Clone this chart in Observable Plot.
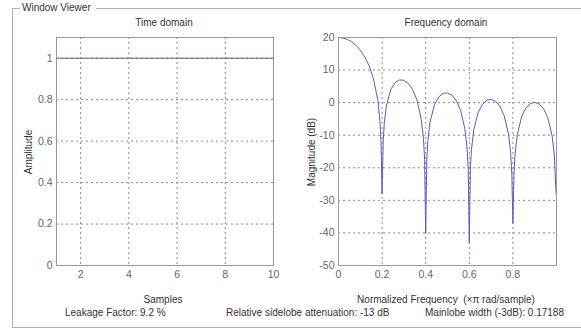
<!DOCTYPE html>
<html>
<head>
<meta charset="utf-8">
<script src="https://cdn.jsdelivr.net/npm/d3@7"></script>
<script src="https://cdn.jsdelivr.net/npm/@observablehq/plot@0.6"></script>
<style>
  html, body { margin: 0; padding: 0; background: #fff; }
  #root { position: relative; width: 581px; height: 329px; overflow: hidden; font-family: "Liberation Sans", Arial, sans-serif; }
  .t { position: absolute; font-size: 10px; color: #333; white-space: nowrap; line-height: 1; }
  .c { transform: translate(-50%, -50%); }
  .r { transform: translate(-50%, -50%) rotate(-90deg); }
  .box { position: absolute; border-color: #b0b0b0; border-style: solid; border-width: 0; }
  .plot { position: absolute; top: 0; }
</style>
</head>
<body>
<div id="root">
  <div class="box" style="left:12px;top:8px;width:8px;height:0;border-top-width:1px;"></div>
  <div class="box" style="left:96px;top:8px;width:490px;height:0;border-top-width:1px;"></div>
  <div class="box" style="left:12px;top:8px;width:0;height:319px;border-left-width:1px;"></div>
  <div class="box" style="left:12px;top:327px;width:575px;height:0;border-top-width:1px;"></div>
  <div class="t" style="left:22px;top:3px;">Window Viewer</div>
  <div id="left" class="plot" style="left:0;"></div>
  <div id="right" class="plot" style="left:290px;"></div>
  <div class="t c" style="left:164px;top:23px;">Time domain</div>
  <div class="t c" style="left:446px;top:23px;">Frequency domain</div>
  <div class="t c" style="left:163px;top:300px;">Samples</div>
  <div class="t c" style="left:446px;top:300px;">Normalized Frequency&nbsp;&nbsp;(×π rad/sample)</div>
  <div class="t r" style="left:29px;top:152px;">Amplitude</div>
  <div class="t r" style="left:312px;top:152px;">Magnitude (dB)</div>
  <div class="t" style="left:65px;top:308px;">Leakage Factor: 9.2 %</div>
  <div class="t" style="left:226px;top:308px;">Relative sidelobe attenuation: -13 dB</div>
  <div class="t" style="left:425px;top:308px;">Mainlobe width (-3dB): 0.17188</div>
</div>
<script>
// Time domain data
const timeSamples = [1, 2, 3, 4, 5, 6, 7, 8, 9, 10];
const timeAmplitude = [1, 1, 1, 1, 1, 1, 1, 1, 1, 1];
const timeXTicks = [2, 4, 6, 8, 10];
const timeYTicks = [0, 0.2, 0.4, 0.6, 0.8, 1];

// Frequency domain data
const freqNorm = [0, 0.02, 0.04, 0.06, 0.08, 0.10, 0.12, 0.14, 0.16, 0.18, 0.19, 0.195, 0.2, 0.205, 0.21, 0.22,
  0.24, 0.26, 0.28, 0.30, 0.32, 0.34, 0.36, 0.38, 0.39, 0.395, 0.4, 0.405, 0.41, 0.42,
  0.44, 0.46, 0.48, 0.50, 0.52, 0.54, 0.56, 0.58, 0.59, 0.595, 0.6, 0.605, 0.61, 0.62,
  0.64, 0.66, 0.68, 0.70, 0.72, 0.74, 0.76, 0.78, 0.79, 0.795, 0.8, 0.805, 0.81, 0.82,
  0.84, 0.86, 0.88, 0.90, 0.92, 0.94, 0.96, 0.98, 0.99, 0.998];
const magDB = [20, 19.86, 19.43, 18.69, 17.60, 16.11, 14.11, 11.39, 7.47, 0.89, -5.48, -11.69, -28, -12.11, -6.32, -0.80,
  4.06, 6.18, 6.98, 6.86, 5.91, 4.02, 0.80, -5.20, -11.31, -17.40, -40, -17.58, -11.68, -5.95,
  -0.70, 1.75, 2.86, 3.01, 2.31, 0.66, -2.35, -8.15, -14.17, -20.22, -43, -20.31, -14.37, -8.55,
  -3.15, -0.54, 0.71, 1.00, 0.43, -1.10, -3.98, -9.67, -15.63, -21.65, -37, -21.69, -15.72, -9.85,
  -4.34, -1.63, -0.28, 0.11, -0.37, -1.80, -4.60, -10.20, -16.1, -28];
const freqXTicks = [0, 0.2, 0.4, 0.6, 0.8];
const freqYTicks = [20, 10, 0, -10, -20, -30, -40, -50];

const lineColor = "#5c5cb8";
const fmt = d => String(d);
const gridStyle = { stroke: "#888", strokeOpacity: 1, strokeDasharray: "2,3", strokeWidth: 1 };
const baseStyle = { fontFamily: "'Liberation Sans', Arial, sans-serif", fontSize: "10.5px", color: "#666", background: "transparent", overflow: "visible" };

const timeData = timeSamples.map((s, i) => ({ s, a: timeAmplitude[i] }));
const freqData = freqNorm.map((f, i) => ({ f, m: magDB[i] }));

const left = Plot.plot({
  width: 290, height: 300,
  marginLeft: 56, marginRight: 17, marginTop: 37, marginBottom: 35,
  style: baseStyle,
  x: { domain: [1, 10] },
  y: { domain: [0, 1.1] },
  marks: [
    Plot.gridX(timeXTicks, gridStyle),
    Plot.gridY(timeYTicks, gridStyle),
    Plot.axisX(timeXTicks, { tickSize: 0, tickPadding: 5, label: null, tickFormat: fmt }),
    Plot.axisY(timeYTicks, { tickSize: 0, tickPadding: 4, label: null, tickFormat: fmt }),
    Plot.line(timeData, { x: "s", y: "a", stroke: lineColor, strokeWidth: 1 }),
    Plot.frame({ stroke: "#999" })
  ]
});
document.getElementById("left").appendChild(left);

const right = Plot.plot({
  width: 291, height: 300,
  marginLeft: 48, marginRight: 25, marginTop: 37, marginBottom: 35,
  style: baseStyle,
  x: { domain: [0, 1] },
  y: { domain: [-50, 20] },
  marks: [
    Plot.gridX(freqXTicks, gridStyle),
    Plot.gridY(freqYTicks, gridStyle),
    Plot.axisX(freqXTicks, { tickSize: 0, tickPadding: 5, label: null, tickFormat: fmt }),
    Plot.axisY(freqYTicks, { tickSize: 0, tickPadding: 4, label: null, tickFormat: fmt }),
    Plot.line(freqData, { x: "f", y: "m", stroke: lineColor, strokeWidth: 1 }),
    Plot.frame({ stroke: "#999" })
  ]
});
document.getElementById("right").appendChild(right);
</script>
</body>
</html>
